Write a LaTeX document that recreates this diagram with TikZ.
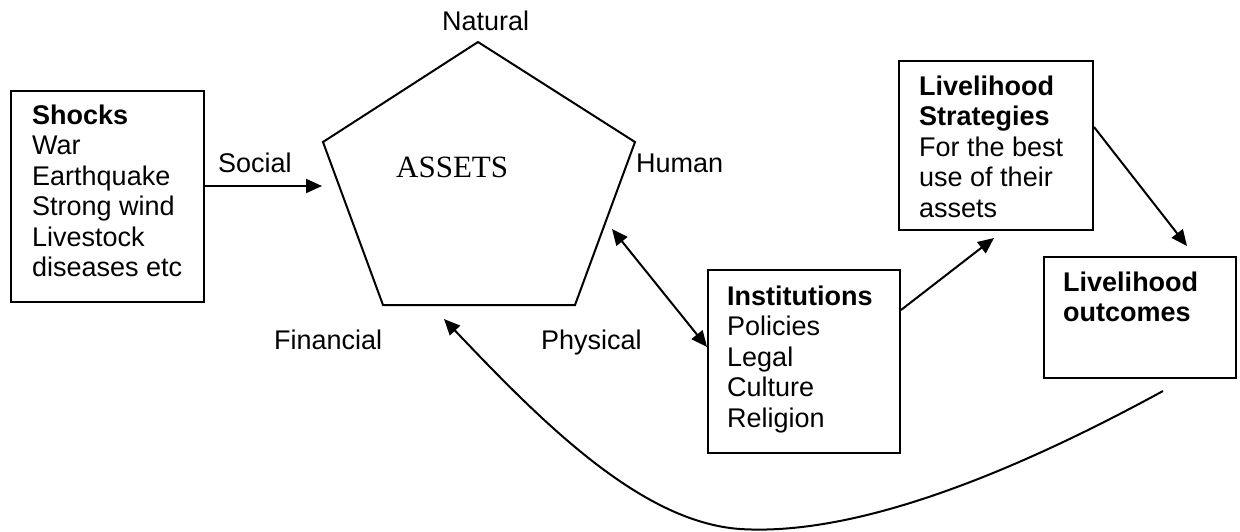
\documentclass[tikz,border=0pt]{standalone}
\usepackage{fontspec}
\setmainfont{Liberation Sans}
\newfontfamily\assetsfont{Liberation Serif}
\usetikzlibrary{arrows.meta}
\tikzset{
  boxnode/.style={draw, line width=2pt, inner sep=0pt, anchor=north west},
  txt/.style={inner sep=0pt, font=\fontsize{27}{30.5}\selectfont},
  blocktxt/.style={txt, align=left, anchor=north west},
  lbl/.style={txt, anchor=base west},
  conn/.style={line width=2pt, -{Triangle[length=16pt,width=14pt]}},
  dconn/.style={line width=2pt, {Triangle[length=16pt,width=14pt]}-{Triangle[length=16pt,width=14pt]}},
  penta/.style={line width=2pt, line join=miter}
}
\begin{document}
\begin{tikzpicture}[x=1pt,y=-1pt]
\useasboundingbox (0,0) rectangle (1240,531);

% boxes
\node[boxnode, minimum width=193pt, minimum height=211pt] (shocks) at (10,90) {};
\node[boxnode, minimum width=194pt, minimum height=169pt] (strat) at (898,60) {};
\node[boxnode, minimum width=192pt, minimum height=183pt] (inst) at (707,269) {};
\node[boxnode, minimum width=192pt, minimum height=121pt] (outc) at (1043,256) {};

% box texts
\node[blocktxt] (shockstxt) at (32,104.5) {\textbf{Shocks}\\War\\Earthquake\\Strong wind\\Livestock\\diseases etc};
\node[blocktxt] (strattxt) at (919,75.5) {\textbf{Livelihood}\\\textbf{Strategies}\\For the best\\use of their\\assets};
\node[blocktxt] (insttxt) at (727,285.5) {\textbf{Institutions}\\Policies\\Legal\\Culture\\Religion};
\node[blocktxt] (outctxt) at (1063,271.5) {\textbf{Livelihood}\\\textbf{outcomes}};

% pentagon
\coordinate (pn) at (478,42);
\coordinate (pur) at (635,142);
\coordinate (plr) at (575,305);
\coordinate (pll) at (383,305);
\coordinate (pul) at (323,142);
\draw[penta] (pn) -- (pur) -- (plr) -- (pll) -- (pul) -- cycle;

% labels
\node[lbl] (natural) at (442,30) {Natural};
\node[lbl] (human) at (636,172) {Human};
\node[lbl] (social) at (218,172) {Social};
\node[lbl] (financial) at (274,349) {Financial};
\node[lbl] (physical) at (541,349) {Physical};
\node[inner sep=0pt, anchor=base west, font=\assetsfont\fontsize{31}{34}\selectfont] (assets) at (396,177) {ASSETS};

% connector end points
\coordinate (socialstart) at (shocks.east |- 0,186);
\coordinate (socialend) at (322,186);
\coordinate (humanpt) at (612,229);
\coordinate (instin) at (inst.west |- 0,347);
\coordinate (instout) at (inst.east |- 0,310);
\coordinate (stratin) at (994,238);
\coordinate (stratout) at (strat.east |- 0,127);
\coordinate (outcin) at (1187,246);
\coordinate (loopstart) at (1163,391);
\coordinate (loopend) at (444,319);

% connectors
\draw[conn] (socialstart) -- (socialend);
\draw[dconn] (humanpt) -- (instin);
\draw[conn] (instout) -- (stratin);
\draw[conn] (stratout) -- (outcin);
\draw[conn] (loopstart) .. controls (1000,480) and (850,536) .. (740,529) .. controls (640,522) and (540,420) .. (loopend);
\end{tikzpicture}
\end{document}
